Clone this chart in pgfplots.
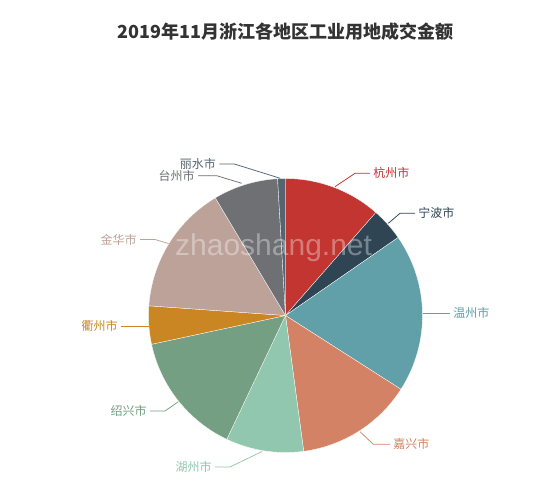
\documentclass[border=0pt]{standalone}
\usepackage{pgfplots}
\pgfplotsset{compat=1.18}
\usepackage{pgfplotstable}
\usepackage{fontspec}
\setmainfont{Liberation Sans}
\newfontfamily\cjk{Noto Sans CJK SC}

\definecolor{c1}{HTML}{C23531}
\definecolor{c2}{HTML}{2F4554}
\definecolor{c3}{HTML}{61A0A8}
\definecolor{c4}{HTML}{D48265}
\definecolor{c5}{HTML}{91C7AE}
\definecolor{c6}{HTML}{749F83}
\definecolor{c7}{HTML}{CA8622}
\definecolor{c8}{HTML}{BDA29A}
\definecolor{c9}{HTML}{6E7074}
\definecolor{c10}{HTML}{546570}
\definecolor{titlegray}{HTML}{333333}

% share of each city, in percent
\pgfplotstableread{
name value col
杭州市 11.46 c1
宁波市 3.90 c2
温州市 18.69 c3
嘉兴市 13.83 c4
湖州市 9.17 c5
绍兴市 14.58 c6
衢州市 4.50 c7
金华市 15.31 c8
台州市 7.64 c9
丽水市 0.92 c10
}\piedata

\newcommand{\lab}{\cjk\fontsize{12bp}{14bp}\selectfont}

\begin{document}
\begin{tikzpicture}
\begin{axis}[
    width=550bp, height=495bp,
    scale only axis,
    xmin=0, xmax=550,
    ymin=0, ymax=495,
    y dir=reverse,
    hide axis,
    clip=false,
]
\fill[white] (axis cs:0,0) rectangle (axis cs:550,495);

% slices, clockwise from the top
\def\cum{0}
\pgfplotsforeachungrouped \i in {0,...,9}{
    \pgfplotstablegetelem{\i}{value}\of\piedata
    \let\v\pgfplotsretval
    \pgfplotstablegetelem{\i}{col}\of\piedata
    \let\c\pgfplotsretval
    \pgfmathsetmacro\a{90-\cum*3.6}
    \pgfmathsetmacro\b{90-(\cum+\v)*3.6}
    \edef\temp{\noexpand\fill[\c, draw=white, line width=0.3bp]
        (axis cs:285.5,315.5) -- ++(\a:137bp)
        arc[start angle=\a, end angle=\b, radius=137bp] -- cycle;}
    \temp
    \pgfmathsetmacro\cum{\cum+\v}
}

% watermark
\node[anchor=base west, inner sep=0pt, text=white, text opacity=0.35,
      font=\fontsize{30bp}{34bp}\selectfont] at (axis cs:175,255) {zhaoshang.net};

% labels
\draw[c1, line width=0.75bp] (axis cs:335,186.7) -- (axis cs:355,173.3) -- (axis cs:370,173.3)
    node[anchor=west, inner sep=0pt, xshift=3bp, font=\lab] {杭州市};
\draw[c2, line width=0.75bp] (axis cs:388.3,223.3) -- (axis cs:400,213.3) -- (axis cs:415,213.3)
    node[anchor=west, inner sep=0pt, xshift=3bp, font=\lab] {宁波市};
\draw[c3, line width=0.75bp] (axis cs:422.7,313.3) -- (axis cs:450,313.3)
    node[anchor=west, inner sep=0pt, xshift=3bp, font=\lab] {温州市};
\draw[c4, line width=0.75bp] (axis cs:360,431.7) -- (axis cs:373.3,444.3) -- (axis cs:390,444.3)
    node[anchor=west, inner sep=0pt, xshift=3bp, font=\lab] {嘉兴市};
\draw[c5, line width=0.75bp] (axis cs:262,451.5) -- (axis cs:230,467) -- (axis cs:215,467)
    node[anchor=east, inner sep=0pt, xshift=-3bp, font=\lab] {湖州市};
\draw[c6, line width=0.75bp] (axis cs:178.3,401.7) -- (axis cs:165,411) -- (axis cs:150,411)
    node[anchor=east, inner sep=0pt, xshift=-3bp, font=\lab] {绍兴市};
\draw[c7, line width=0.75bp] (axis cs:148.5,326) -- (axis cs:121,326)
    node[anchor=east, inner sep=0pt, xshift=-3bp, font=\lab] {衢州市};
\draw[c8, line width=0.75bp] (axis cs:168.5,243.5) -- (axis cs:155,239.5) -- (axis cs:140,239.5)
    node[anchor=east, inner sep=0pt, xshift=-3bp, font=\lab] {金华市};
\draw[c9, line width=0.75bp] (axis cs:241.7,183.3) -- (axis cs:216.7,175.7) -- (axis cs:198,175.7)
    node[anchor=east, inner sep=0pt, xshift=-3bp, font=\lab] {台州市};
\draw[c10, line width=0.75bp] (axis cs:280.3,178.3) -- (axis cs:234.3,164) -- (axis cs:219.3,164)
    node[anchor=east, inner sep=0pt, xshift=-3bp, font=\lab] {丽水市};

% title
\node[text=titlegray, font=\cjk\bfseries\fontsize{18bp}{22bp}\selectfont]
    at (axis cs:285.5,32) {2019年11月浙江各地区工业用地成交金额};
\end{axis}
\end{tikzpicture}
\end{document}
